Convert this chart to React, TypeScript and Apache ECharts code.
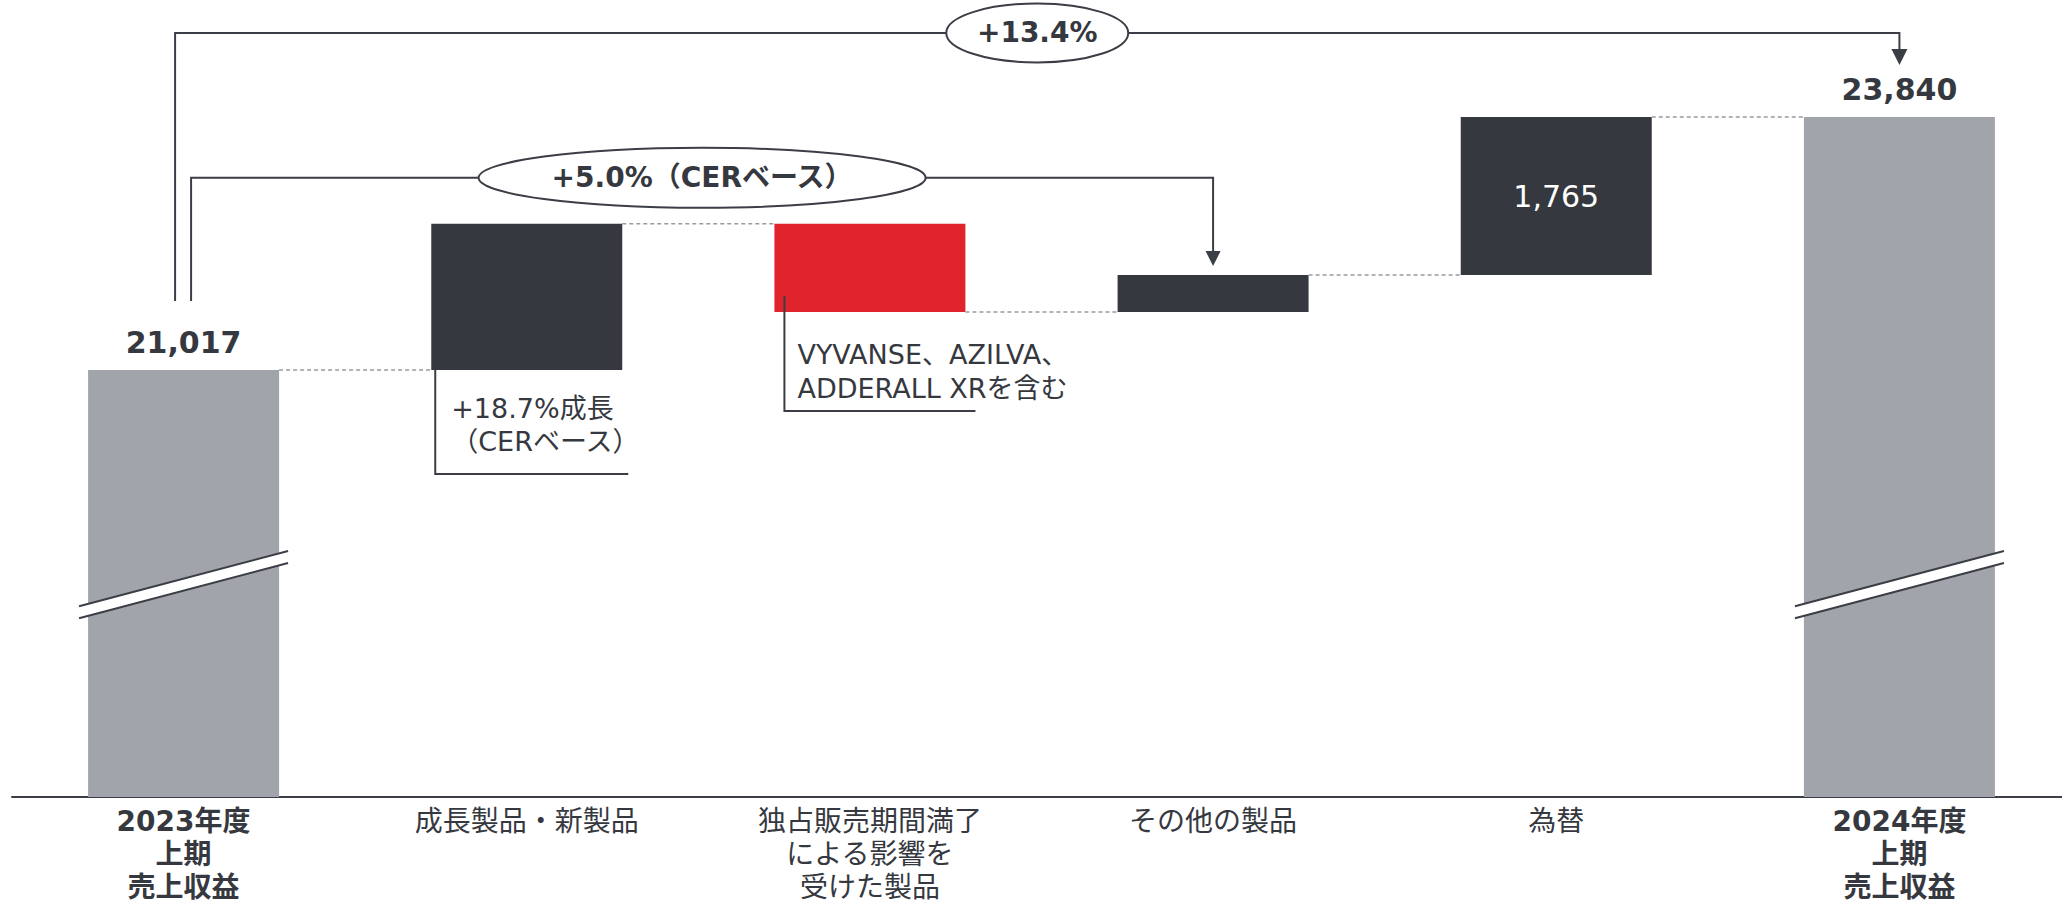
import React, { useEffect, useRef } from "react";
import * as echarts from "echarts";

// ---- data ----
const categories = [
  "2023年度\n上期\n売上収益",
  "成長製品・新製品",
  "独占販売期間満了\nによる影響を\n受けた製品",
  "その他の製品",
  "為替",
  "2024年度\n上期\n売上収益",
];
const startTotal = 21017;
const endTotal = 23840;
const deltas = [1630, -985, 413, 1765];
const totalGrowthLabel = "+13.4%";
const cerGrowthLabel = "+5.0%（CERベース）";
const growthNote = ["+18.7%成長", "（CERベース）"];
const lossNote = ["VYVANSE、AZILVA、", "ADDERALL XRを含む"];
const breakValue = 18620;

// ---- styles ----
const FONT = "'DejaVu Sans', 'Noto Sans CJK JP', sans-serif";
const DARK = "#363840";
const LINE = "#3b3e46";
const GRAY = "#a2a4ab";
const RED = "#e1242b";
const BAR_W = 191;

const fmt = (v: number) => v.toLocaleString("en-US");

export default function App() {
  const ref = useRef<HTMLDivElement>(null);

  useEffect(() => {
    if (!ref.current) return;
    const chart = echarts.init(ref.current, undefined, { renderer: "svg" });

    const cum: number[] = [startTotal];
    deltas.forEach((d) => cum.push(cum[cum.length - 1] + d));
    const base = [0, ...deltas.map((d, i) => (d >= 0 ? cum[i] : cum[i + 1])), 0];
    const heights = [startTotal, ...deltas.map((d) => Math.abs(d)), endTotal];
    const colors = heights.map((_, i) =>
      i === 0 || i === heights.length - 1 ? GRAY : deltas[i - 1] < 0 ? RED : DARK
    );

    const valueData = heights.map((v, i) => {
      let label: any = { show: false };
      if (i === 0 || i === heights.length - 1) {
        label = {
          show: true,
          position: "top",
          distance: 12,
          fontFamily: FONT,
          fontWeight: "bold",
          fontSize: 30,
          color: DARK,
          formatter: () => fmt(v),
        };
      } else if (i === 4) {
        label = {
          show: true,
          position: "inside",
          fontFamily: FONT,
          fontSize: 30,
          color: "#ffffff",
          formatter: () => fmt(v),
        };
      }
      return { value: v, itemStyle: { color: colors[i] }, label };
    });

    chart.setOption({
      animation: false,
      backgroundColor: "#ffffff",
      grid: {
        left: 12,
        top: 13,
        width: 2059,
        height: 784,
        containLabel: false,
        outerBoundsMode: "none",
      },
      xAxis: {
        type: "category",
        data: categories,
        axisTick: { show: false },
        axisLine: { lineStyle: { color: LINE, width: 2 } },
        axisLabel: {
          interval: 0,
          margin: 8,
          fontFamily: FONT,
          fontSize: 28,
          lineHeight: 33,
          color: DARK,
          hideOverlap: false,
          formatter: (val: string, idx: number) =>
            idx === 0 || idx === categories.length - 1
              ? val
                  .split("\n")
                  .map((s) => `{b|${s}}`)
                  .join("\n")
              : val,
          rich: {
            b: {
              fontFamily: FONT,
              fontWeight: "bold",
              fontSize: 28,
              lineHeight: 33,
              color: DARK,
            },
          },
        },
      },
      yAxis: {
        type: "value",
        min: 16250,
        max: 25000,
        show: false,
        splitLine: { show: false },
      },
      series: [
        {
          type: "bar",
          stack: "w",
          barWidth: BAR_W,
          data: base,
          itemStyle: { color: "rgba(0,0,0,0)" },
          silent: true,
        },
        {
          type: "bar",
          stack: "w",
          barWidth: BAR_W,
          data: valueData,
        },
      ],
    });

    const px = (i: number, v: number) =>
      chart.convertToPixel({ gridIndex: 0 }, [i, v]) as number[];
    const hw = BAR_W / 2;
    const els: any[] = [];

    // dashed connectors
    for (let i = 0; i < cum.length; i++) {
      const a = px(i, cum[i]);
      const b = px(i + 1, cum[i]);
      els.push({
        type: "line",
        shape: { x1: a[0] + hw, y1: a[1], x2: b[0] - hw, y2: a[1] },
        style: { stroke: "#9a9ba0", lineWidth: 1.5, lineDash: [4, 3] },
        z: 10,
      });
    }

    // axis break marks
    [0, categories.length - 1].forEach((i) => {
      const [cx, yc] = px(i, breakValue);
      const s = 0.264;
      const x1 = cx - hw - 9;
      const x2 = cx + hw + 9;
      const yu = (x: number) => yc - 6 - s * (x - cx);
      const yl = (x: number) => yc + 6 - s * (x - cx);
      els.push({
        type: "polygon",
        shape: { points: [[x1, yu(x1)], [x2, yu(x2)], [x2, yl(x2)], [x1, yl(x1)]] },
        style: { fill: "#ffffff" },
        z: 10,
      });
      els.push({
        type: "line",
        shape: { x1, y1: yu(x1), x2, y2: yu(x2) },
        style: { stroke: LINE, lineWidth: 2 },
        z: 11,
      });
      els.push({
        type: "line",
        shape: { x1, y1: yl(x1), x2, y2: yl(x2) },
        style: { stroke: LINE, lineWidth: 2 },
        z: 11,
      });
    });

    const textStyle = (
      text: string,
      x: number,
      y: number,
      size: number,
      bold: boolean,
      align: string
    ) => ({
      type: "text",
      z: 20,
      style: {
        text,
        x,
        y,
        fill: DARK,
        font: `${bold ? "bold " : ""}${size}px ${FONT}`,
        textAlign: align,
        align,
        textVerticalAlign: "middle",
        verticalAlign: "middle",
      },
    });

    // brackets
    const p0 = px(0, startTotal);
    const p5 = px(categories.length - 1, endTotal);
    const p3 = px(3, cum[3]);
    const bottomY = p0[1] - 69;
    const outerY = p5[1] - 84;
    const innerY = px(1, cum[1])[1] - 46;
    const xo = p0[0] - 8.5;
    const xi = p0[0] + 7.5;
    const tip5 = p5[1] - 52;
    const tip3 = p3[1] - 9;

    els.push({
      type: "polyline",
      shape: { points: [[xo, bottomY], [xo, outerY], [p5[0], outerY], [p5[0], tip5 - 14]] },
      style: { stroke: LINE, lineWidth: 2, fill: null },
      z: 12,
    });
    els.push({
      type: "polygon",
      shape: { points: [[p5[0] - 8, tip5 - 16], [p5[0] + 8, tip5 - 16], [p5[0], tip5]] },
      style: { fill: LINE },
      z: 12,
    });
    els.push({
      type: "polyline",
      shape: { points: [[xi, bottomY], [xi, innerY], [p3[0], innerY], [p3[0], tip3 - 13]] },
      style: { stroke: LINE, lineWidth: 2, fill: null },
      z: 12,
    });
    els.push({
      type: "polygon",
      shape: { points: [[p3[0] - 7.5, tip3 - 15], [p3[0] + 7.5, tip3 - 15], [p3[0], tip3]] },
      style: { fill: LINE },
      z: 12,
    });

    const oc = (xo + p5[0]) / 2;
    els.push({
      type: "ellipse",
      shape: { cx: oc, cy: outerY, rx: 91, ry: 29.5 },
      style: { fill: "#ffffff", stroke: LINE, lineWidth: 2 },
      z: 13,
    });
    els.push(textStyle(totalGrowthLabel, oc, outerY, 28, true, "center"));
    const ic = (xi + p3[0]) / 2;
    els.push({
      type: "ellipse",
      shape: { cx: ic, cy: innerY, rx: 223.5, ry: 30 },
      style: { fill: "#ffffff", stroke: LINE, lineWidth: 2 },
      z: 13,
    });
    els.push(textStyle(cerGrowthLabel, ic, innerY, 28, true, "center"));

    // callout for growth products
    const g = px(1, cum[0]);
    const gl = g[0] - hw;
    const gr = g[0] + hw;
    els.push({
      type: "polyline",
      shape: { points: [[gl + 4, g[1]], [gl + 4, g[1] + 104], [gr + 6, g[1] + 104]] },
      style: { stroke: LINE, lineWidth: 2, fill: null },
      z: 12,
    });
    els.push(textStyle(growthNote[0], gl + 20, g[1] + 39, 27, false, "left"));
    els.push(textStyle(growthNote[1], gl + 20, g[1] + 72, 27, false, "left"));

    // callout for loss of exclusivity
    const l = px(2, cum[2]);
    const ll = l[0] - hw;
    const lr = l[0] + hw;
    els.push({
      type: "polyline",
      shape: { points: [[ll + 10, l[1] - 16], [ll + 10, l[1] + 99], [lr + 10, l[1] + 99]] },
      style: { stroke: LINE, lineWidth: 2, fill: null },
      z: 12,
    });
    els.push(textStyle(lossNote[0], ll + 23, l[1] + 42, 27, false, "left"));
    els.push(textStyle(lossNote[1], ll + 23, l[1] + 76, 27, false, "left"));

    chart.setOption({ graphic: els });

    return () => chart.dispose();
  }, []);

  return (
    <div
      ref={ref}
      style={{ position: "absolute", left: 0, top: 0, width: 2062, height: 903, background: "#fff" }}
    />
  );
}
